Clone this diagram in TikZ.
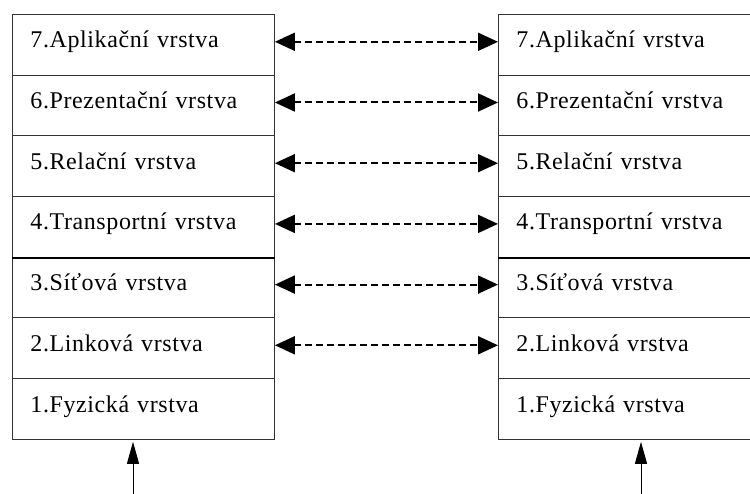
\documentclass[tikz,border=0pt]{standalone}
\usepackage{fontspec}
\setmainfont{Liberation Serif}
\usetikzlibrary{arrows.meta}

\begin{document}
\begin{tikzpicture}[x=1pt,y=-1pt,
  layer/.style={draw=black!80,line width=0.9pt,rectangle,
    minimum width=262pt,minimum height=60.7pt,
    text width=226pt,inner xsep=18pt,align=left,
    text height=17pt,text depth=11pt,
    font=\fontsize{24}{28}\selectfont\addfontfeatures{LetterSpace=2.5}},
  peer/.style={dashed,dash pattern=on 7pt off 4pt,line width=2pt,
    {Triangle[length=20pt,width=18pt]}-{Triangle[length=20pt,width=18pt]}},
  feed/.style={line width=1pt,-{Triangle[length=22pt,width=12pt]},shorten >=2pt}]
\useasboundingbox (0,0) rectangle (750,494);
\fill[white] (0,0) rectangle (750,494);
\clip (0,0) rectangle (750,494);

% left and right protocol stacks
\foreach \n/\t [count=\i from 0] in {7/7.Aplikační vrstva,6/6.Prezentační vrstva,
    5/5.Relační vrstva,4/4.Transportní vrstva,3/3.Síťová vrstva,
    2/2.Linková vrstva,1/1.Fyzická vrstva}{
  \node[layer,anchor=north west] (L\n) at (12,14+60.7*\i) {\t};
  \node[layer,anchor=north west] (R\n) at (498,14+60.7*\i) {\t};
}

% heavier borders between layers 4 and 3
\draw[line width=2pt] (L4.south west) -- (L4.south east);
\draw[line width=2pt] (R4.south west) -- (R4.south east);

% peer-to-peer links
\foreach \n in {7,6,5,4,3,2}{
  \draw[peer] ([yshift=3pt]L\n.east) -- ([yshift=3pt]R\n.west);
}

% inputs from below
\coordinate (inL) at (133,494);
\coordinate (inR) at (641,494);
\draw[feed] (inL) -- (inL |- L1.south);
\draw[feed] (inR) -- (inR |- R1.south);
\end{tikzpicture}
\end{document}
